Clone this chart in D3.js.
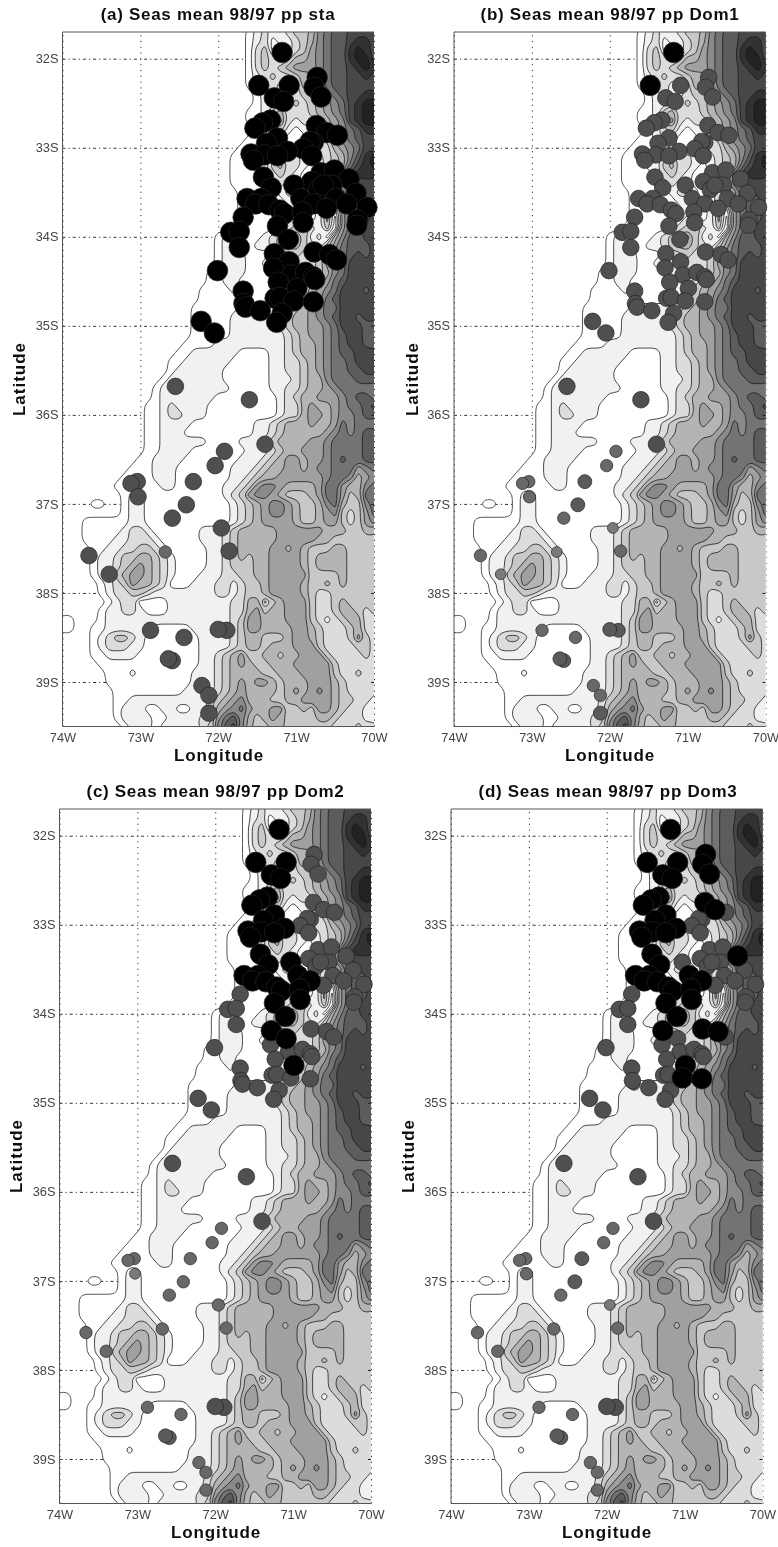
<!DOCTYPE html>
<html>
<head>
<meta charset="utf-8">
<script src="https://cdn.jsdelivr.net/npm/d3@7"></script>
<style>
	html, body { margin: 0; background: #fff; }
	svg { display: block; font-family: "Liberation Sans", Arial, sans-serif; }
</style>
</head>
<body>
<svg id="chart" width="778" height="1547"></svg>
<script>
// axis ticks
const lonTicks = [-74, -73, -72, -71, -70];
const latTicks = [-32, -33, -34, -35, -36, -37, -38, -39];

// terrain level per grid node, 0.1 deg steps, from 31.7S down and 74W to 70W
const terrainRows = [
	"0000000000 0000000000 0000123223 4457899aaa a",
	"0000000000 0000000000 0000123122 3457899abb a",
	"0000000000 0000000000 0000134112 3467899bcb a",
	"0000000000 0000000000 0000134323 5567899bcc a",
	"0000000000 0000000000 0000134345 6667899abc b",
	"0000000000 0000000000 0000123433 4557899aab a",
	"0000000000 0000000000 0000123322 3556899aaa a",
	"0000000000 0000000000 0000012322 3446789aab b",
	"0000000000 0000000000 0000012233 4345678abc c",
	"0000000000 0000000000 0000112453 3345678abc c",
	"0000000000 0000000000 0000112563 2334567abc c",
	"0000000000 0000000000 0000012342 122356789b b",
	"0000000000 0000000000 0000112321 112346789a a",
	"0000000000 0000000000 0001112321 112335678a a",
	"0000000000 0000000000 0011112343 322234579b c",
	"0000000000 0000000000 0011122453 3212345 8ab c",
	"0000000000 0000000000 0011112343 2112358abb b",
	"0000000000 0000000000 0011112232 21234689aa a",
	"0000000000 0000000000 0001111123 321234689a a",
	"0000000000 0000000000 0001111112 2112357899 a",
	"0000000000 0000000000 0001111111 2112426899 a",
	"0000000000 0000000000 0001111112 3212516899 a",
	"0000000000 0000000000 0011111123 453241689a a",
	"0000000000 0000000000 1211112345 642315799a a",
	"0000000000 0000000000 1221122345 5432468999 a",
	"0000000000 0000000000 1222111233 4334578 9a9 a",
	"0000000000 0000000000 1222112223 33346 78aaa a",
	"0000000000 0000000001 1222111122 2234578aaa a",
	"0000000000 0000000001 1221111112 2345689aaa a",
	"0000000000 0000000011 1121111112 345678aaa9 a",
	"0000000000 0000000011 1111111123 345689aaaa a",
	"0000000000 0000000111 1112222233 456788aaaa a",
	"0000000000 0000000111 1122222234 556789aa9a a",
	"0000000000 0000000111 1122222234 556678aaa9 9",
	"0000000000 0000000111 1122222223 4566789aa9 9",
	"0000000000 0000001111 2222222223 4556789aa9 9",
	"0000000000 0000011222 2221111223 4556789 9aa a",
	"0000000000 0000112222 2211111223 3456788 9aa a",
	"0000000000 0000122222 2111111223 3456788 99a a",
	"0000000000 0001222222 2111111222 3455788899 9",
	"0000000000 0012222222 2211111223 3455678888 8",
	"0000000000 0012222222 1111111123 4556667899 8",
	"0000000000 0112322221 1111111123 3565567889 a",
	"0000000000 0112332221 1111111123 3566567789 9",
	"0000000000 0112222111 1111122345 5565568788 8",
	"0000000000 0112221111 1111122345 5555678789 9",
	"0000000000 0112222221 1112223455 5566788889 9",
	"0000000000 0112222111 1111222345 5666788889 9",
	"0000000000 1122221111 1112223456 6566789889 9",
	"0000000001 1122211111 1122234556 6567788867 8",
	"0000000011 1122211111 1122345566 6666788756 7",
	"0000000111 1112211111 1223467765 5556886557 8",
	"0000000012 2111111111 1234677654 4456886458 8",
	"0000110012 2111111111 1123456776 5445785447 8",
	"0000000012 2111111111 1123456776 5445674346 8",
	"0001111112 2111111111 1123456666 5445664346 7",
	"0001111123 3211111122 2345555566 6666555445 5",
	"0001111223 3321111122 2345555566 6665544444 4",
	"0000112233 4432111112 2345555665 6544455444 4",
	"0000122344 5543211112 2345455666 6545555444 4",
	"0000122345 6543211112 2344455666 6545555444 4",
	"0000122456 6543211122 2334455666 6644445444 4",
	"0000012346 5543111222 3323445666 6544545444 4",
	"0000012334 4322222222 3323445666 6543344444 4",
	"0000001233 1111222222 2233552456 6643345444 4",
	"0000012233 2111222222 2233564556 6643345543 4",
	"1100012222 2222222222 2234665556 6643234553 3",
	"1100112222 2211111222 2234665555 6654333453 3",
	"0000123443 2111111122 2234554445 6654333464 3",
	"0000123332 2111111122 2234554555 6664333344 3",
	"0000112222 1111111122 3456445545 5666433334 3",
	"0000011111 1111111122 3456544555 6666643333 3",
	"0000001112 1111111222 3455554455 5666643343 3",
	"0000001111 1111111222 3456566545 5566654333 3",
	"0000000111 1111112222 3456555545 6567654333 3",
	"0000000112 2222222223 4567555445 5666654433 2",
	"0000000122 2112211223 5678655664 4546654332 2",
	"0000000122 2211222233 6897545654 4445543332 2",
	"0000000012 2212222234 79a7544554 4444433343 3"
];

// gauges, degrees (west and south negative)
const stationLon = [
	-71.18, -71.48, -71.09, -70.73, -70.77, -70.68, -71.28, -71.16, -71.33, -71.43,
	-71.53, -70.74, -70.61, -70.47, -71.24, -71.38, -70.78, -70.82, -70.91, -71.11,
	-71.58, -71.41, -71.24, -71.55, -70.80, -70.68, -70.51, -70.32, -71.42, -70.80,
	-71.32, -71.03, -70.54, -70.71, -70.65, -70.23, -70.49, -71.63, -71.45, -70.94,
	-70.78, -70.09, -70.35, -70.61, -71.52, -71.35, -71.21, -71.15, -70.92, -71.68,
	-70.21, -70.91, -71.24, -70.22, -71.84, -71.73, -71.73, -71.10, -71.28, -70.77,
	-70.57, -70.48, -71.09, -71.29, -72.01, -71.06, -70.88, -70.78, -70.76, -71.23,
	-70.99, -71.68, -71.27, -71.21, -71.03, -70.78, -71.67, -71.65, -71.46, -71.18,
	-71.25, -72.22, -72.05, -72.55, -71.60, -71.40, -71.92, -72.04, -72.32, -73.04,
	-73.12, -73.03, -72.41, -72.59, -71.96, -71.86, -72.68, -73.66, -73.40, -72.87,
	-71.89, -72.00, -72.44, -72.59, -72.64, -72.21, -72.12, -72.12
];
const stationLat = [
	-31.93, -32.30, -32.30, -32.21, -32.32, -32.43, -32.44, -32.48, -32.69, -32.72,
	-32.78, -32.75, -32.83, -32.86, -32.89, -32.95, -32.94, -32.93, -33.01, -33.04,
	-33.07, -33.08, -33.09, -33.14, -33.09, -33.28, -33.25, -33.35, -33.33, -33.38,
	-33.45, -33.42, -33.42, -33.47, -33.42, -33.51, -33.57, -33.57, -33.57, -33.57,
	-33.63, -33.67, -33.63, -33.68, -33.63, -33.64, -33.70, -33.74, -33.72, -33.78,
	-33.81, -33.84, -33.88, -33.87, -33.95, -33.94, -34.12, -34.03, -34.19, -34.17,
	-34.20, -34.26, -34.28, -34.35, -34.38, -34.43, -34.40, -34.45, -34.48, -34.51,
	-34.58, -34.61, -34.69, -34.68, -34.72, -34.73, -34.75, -34.79, -34.83, -34.86,
	-34.96, -34.95, -35.08, -35.68, -35.83, -36.33, -36.41, -36.57, -36.75, -36.75,
	-36.77, -36.92, -37.01, -37.16, -37.27, -37.53, -37.54, -37.58, -37.79, -38.42,
	-38.42, -38.41, -38.50, -38.76, -38.74, -39.04, -39.15, -39.35
];

// seasonal mean class of each gauge, one list per panel
const classSta = [
	4, 4, 4, 4, 4, 4, 4, 4, 4, 4,
	4, 4, 4, 4, 4, 4, 4, 4, 4, 4,
	4, 4, 4, 4, 4, 4, 4, 4, 4, 4,
	4, 4, 4, 4, 4, 4, 4, 4, 4, 4,
	4, 4, 4, 4, 4, 4, 4, 4, 4, 4,
	4, 4, 4, 4, 4, 4, 4, 4, 4, 4,
	4, 4, 4, 4, 4, 4, 4, 4, 4, 4,
	4, 4, 4, 4, 4, 4, 4, 4, 4, 4,
	4, 4, 4, 3, 3, 3, 3, 3, 3, 3,
	3, 3, 3, 3, 3, 3, 1, 3, 3, 3,
	3, 3, 3, 3, 3, 3, 3, 3
];
const classDom1 = [
	4, 4, 3, 3, 3, 3, 3, 3, 3, 3,
	3, 3, 3, 3, 3, 3, 3, 3, 3, 3,
	3, 3, 3, 3, 3, 3, 3, 3, 3, 3,
	3, 3, 3, 3, 3, 3, 3, 3, 3, 3,
	3, 3, 3, 3, 3, 3, 3, 3, 3, 3,
	3, 3, 3, 3, 3, 3, 3, 3, 3, 3,
	3, 3, 3, 3, 3, 3, 3, 3, 3, 3,
	3, 3, 3, 3, 3, 3, 3, 3, 3, 3,
	3, 3, 3, 3, 3, 3, 1, 1, 2, 1,
	1, 1, 2, 1, 0, 1, 0, 1, 0, 1,
	2, 2, 1, 2, 2, 1, 1, 2
];
const classDom2 = [
	4, 4, 4, 3, 3, 3, 4, 4, 4, 4,
	4, 3, 3, 3, 4, 4, 3, 3, 3, 4,
	4, 4, 4, 4, 3, 3, 3, 3, 4, 3,
	4, 4, 3, 3, 3, 3, 3, 4, 4, 4,
	4, 3, 3, 3, 4, 4, 4, 4, 4, 3,
	3, 4, 4, 3, 3, 3, 3, 4, 4, 3,
	3, 3, 4, 3, 3, 3, 3, 3, 3, 3,
	4, 3, 3, 3, 3, 3, 3, 3, 3, 3,
	3, 3, 3, 3, 3, 3, 1, 1, 1, 1,
	1, 0, 1, 1, 1, 1, 1, 1, 1, 1,
	3, 3, 1, 2, 2, 1, 1, 1
];
const classDom3 = [
	4, 4, 4, 4, 4, 4, 4, 4, 4, 4,
	4, 4, 4, 3, 4, 4, 3, 3, 3, 4,
	4, 4, 4, 4, 3, 3, 3, 4, 4, 3,
	4, 3, 3, 3, 3, 3, 3, 4, 4, 4,
	4, 3, 3, 3, 4, 4, 4, 4, 4, 3,
	3, 4, 4, 3, 3, 3, 3, 4, 4, 4,
	4, 3, 3, 3, 3, 3, 3, 3, 3, 3,
	4, 3, 3, 3, 4, 4, 3, 1, 3, 3,
	3, 3, 3, 3, 3, 3, 1, 1, 2, 1,
	1, 1, 2, 1, 0, 1, 1, 1, 1, 1,
	3, 3, 1, 2, 2, 1, 1, 1
];

const panels = [
	{title: "(a) Seas mean 98/97 pp sta",  classes: classSta,  left: 62.5, top: 32,  titleX: 218,   xLabelX: 219, yLabelX: 25},
	{title: "(b) Seas mean 98/97 pp Dom1", classes: classDom1, left: 454,  top: 32,  titleX: 610,   xLabelX: 610, yLabelX: 418},
	{title: "(c) Seas mean 98/97 pp Dom2", classes: classDom2, left: 59.5, top: 809, titleX: 215.5, xLabelX: 216, yLabelX: 22},
	{title: "(d) Seas mean 98/97 pp Dom3", classes: classDom3, left: 451,  top: 809, titleX: 608,   xLabelX: 607, yLabelX: 414}
];

const width = 311.5;
const height = 694.5;

const shades = ["#ffffff", "#f1f1f1", "#dcdcdc", "#c8c8c8", "#b4b4b4", "#a0a0a0", "#8a8a8a", "#737373", "#5c5c5c", "#464646", "#333333", "#222222"];
const classRadius = d3.scaleOrdinal([0, 1, 2, 3, 4], [5.4, 6.2, 7, 8.3, 10.3]);
const classFill = d3.scaleOrdinal([0, 1, 2, 3, 4], ["#7a7a7a", "#686868", "#5a5a5a", "#4f4f4f", "#000000"]);

// grid
const cleanRows = terrainRows.map(r => r.replace(/ /g, ""));
const nx = 41;
const ny = cleanRows.length;
const values = [];
cleanRows.forEach(r => {
	for (let j = 0; j < nx; j++) values.push(parseInt(r[j] || r[r.length - 1], 36));
});
const bands = d3.contours()
	.size([nx, ny])
	.thresholds(shades.map((s, i) => i + 0.5))(values);

const svg = d3.select("#chart");
const defs = svg.append("defs");
defs.append("filter").attr("id", "soft")
	.attr("x", 0).attr("y", 0).attr("width", 1).attr("height", 1)
	.append("feGaussianBlur").attr("stdDeviation", 0.4);

const root = svg.append("g").attr("filter", "url(#soft)");
root.append("rect").attr("width", 778).attr("height", 1547).attr("fill", "#fff");

panels.forEach((p, k) => {
	const x = d3.scaleLinear().domain([-74, -70]).range([0, width]);
	const y = d3.scaleLinear().domain([-31.7, -39.5]).range([0, height]);

	// contour coordinates are pixels of the grid, nodes sit on half steps
	const ring = d3.line()
		.x(d => x(-74 + (d[0] - 0.5) * 0.1))
		.y(d => y(-31.7 - (d[1] - 0.5) * 0.1))
		.curve(d3.curveBasisClosed);
	const bandPath = b => b.coordinates
		.map(poly => poly.map(r => ring(r.slice(0, -1))).join(""))
		.join("");

	const g = root.append("g").attr("transform", `translate(${p.left},${p.top})`);

	defs.append("clipPath").attr("id", `clip${k}`)
		.append("rect").attr("width", width).attr("height", height);

	// grid lines sit below the land
	const gridX = g.append("g")
		.attr("transform", `translate(0,${height})`)
		.call(d3.axisBottom(x).tickValues(lonTicks).tickSize(-height).tickFormat(""));
	gridX.select(".domain").remove();
	gridX.selectAll("line").attr("stroke", "#333").attr("stroke-dasharray", "1.2 4.6");

	const gridY = g.append("g")
		.call(d3.axisLeft(y).tickValues(latTicks).tickSize(-width).tickFormat(""));
	gridY.select(".domain").remove();
	gridY.selectAll("line").attr("stroke", "#333").attr("stroke-dasharray", "3 3 1.2 3");

	// land
	g.append("g").attr("clip-path", `url(#clip${k})`)
		.selectAll("path")
		.data(bands.filter(b => b.coordinates.length))
		.join("path")
		.attr("d", bandPath)
		.attr("fill", d => shades[d.value - 0.5])
		.attr("stroke", d => d.value < 1 ? "#555" : "#1c1c1c")
		.attr("stroke-width", d => d.value < 1 ? 1 : 0.8)
		.attr("stroke-linejoin", "round");

	// short ticks on the right edge
	const edge = g.append("g")
		.attr("transform", `translate(${width},0)`)
		.call(d3.axisRight(y).tickValues(latTicks).tickSize(-3).tickFormat(""));
	edge.select(".domain").remove();
	edge.selectAll("line").attr("stroke", "#222");

	// frame, no line on the right side
	g.append("path")
		.attr("d", `M${width},0H0V${height}H${width}`)
		.attr("fill", "none")
		.attr("stroke", "#555")
		.attr("stroke-width", 1);

	// gauges, biggest class on top
	const order = d3.range(stationLon.length)
		.sort((a, b) => d3.ascending(p.classes[a], p.classes[b]) || d3.ascending(a, b));
	g.append("g")
		.selectAll("circle")
		.data(order)
		.join("circle")
		.attr("cx", i => x(stationLon[i]))
		.attr("cy", i => y(stationLat[i]))
		.attr("r", i => classRadius(p.classes[i]))
		.attr("fill", i => classFill(p.classes[i]))
		.attr("stroke", "#222")
		.attr("stroke-width", 0.7);

	// tick labels
	const xAxis = g.append("g")
		.attr("transform", `translate(0,${height})`)
		.call(d3.axisBottom(x).tickValues(lonTicks).tickSize(0).tickPadding(6).tickFormat(d => `${-d}W`));
	xAxis.select(".domain").remove();
	xAxis.selectAll("text").attr("font-size", 12.8).attr("fill", "#444").attr("font-family", "Liberation Sans");

	const yAxis = g.append("g")
		.call(d3.axisLeft(y).tickValues(latTicks).tickSize(0).tickPadding(4).tickFormat(d => `${-d}S`));
	yAxis.select(".domain").remove();
	yAxis.selectAll("text").attr("font-size", 12.8).attr("fill", "#444").attr("font-family", "Liberation Sans");

	// titles
	root.append("text")
		.attr("x", p.titleX).attr("y", p.top - 12)
		.attr("text-anchor", "middle")
		.attr("font-size", 17).attr("letter-spacing", 0.7).attr("font-weight", "bold").attr("fill", "#111")
		.text(p.title);
	root.append("text")
		.attr("x", p.xLabelX).attr("y", p.top + height + 34)
		.attr("text-anchor", "middle")
		.attr("font-size", 17).attr("letter-spacing", 0.9).attr("font-weight", "bold").attr("fill", "#111")
		.text("Longitude");
	root.append("text")
		.attr("transform", `translate(${p.yLabelX},${p.top + 347}) rotate(-90)`)
		.attr("text-anchor", "middle")
		.attr("font-size", 17).attr("letter-spacing", 1).attr("font-weight", "bold").attr("fill", "#111")
		.text("Latitude");
});
</script>
</body>
</html>
